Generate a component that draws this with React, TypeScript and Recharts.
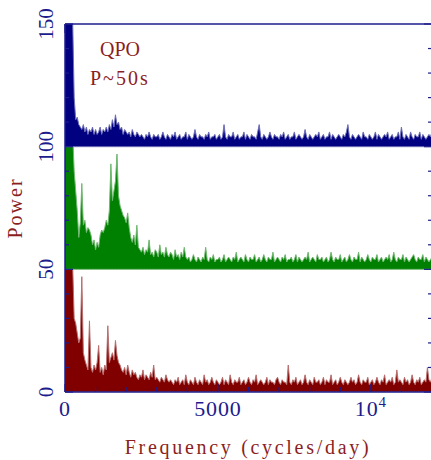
import React from "react";
import { ComposedChart, Area, XAxis, YAxis } from "recharts";

const NAVY = "#1c1c8c";
const TEXT_RED = "#8b1f1f";
const SERIF = "'Liberation Serif', 'DejaVu Serif', serif";

// frequency grid step (cycles/day)
const STEP = 50;

// power of each spectrum, one value per 50 cycles/day, 0 .. 12000
const bluePower = [
  70, 68, 64, 58, 54, 52, 20, 11, 12, 9,
  8, 7, 9, 6, 8, 5, 7, 6, 8, 5,
  7, 5, 6, 8, 5, 7, 6, 8, 6, 9,
  7, 11, 8, 13, 9, 10, 7, 8, 5, 7,
  6, 5, 6, 4, 7, 5, 4, 6, 5, 4,
  5, 4, 3, 5, 4, 6, 4, 3, 5, 4,
  4, 5, 3, 4, 6, 4, 3, 5, 4, 3,
  5, 4, 6, 3, 4, 5, 3, 4, 4, 6,
  3, 5, 4, 3, 4, 7, 4, 3, 5, 4,
  4, 3, 5, 4, 6, 3, 4, 4, 5, 3,
  4, 5, 3, 4, 9, 4, 3, 5, 4, 4,
  6, 3, 4, 5, 3, 4, 4, 6, 3, 5,
  4, 3, 5, 4, 4, 3, 6, 9, 4, 3,
  5, 4, 3, 4, 6, 4, 3, 5, 4, 4,
  3, 5, 4, 6, 3, 4, 5, 3, 4, 4,
  6, 3, 4, 5, 4, 3, 4, 7, 4, 3,
  5, 4, 3, 4, 5, 4, 6, 3, 4, 5,
  3, 4, 4, 6, 3, 5, 4, 3, 4, 5,
  4, 3, 5, 4, 6, 9, 4, 3, 5, 4,
  3, 4, 5, 4, 3, 6, 4, 4, 3, 5,
  4, 3, 4, 6, 3, 5, 4, 3, 4, 5,
  4, 6, 3, 4, 5, 3, 4, 4, 6, 3,
  8, 4, 3, 5, 4, 3, 6, 4, 3, 5,
  4, 4, 6, 3, 5, 4, 3, 4, 5, 4, 6,
];

const greenPower = [
  80, 76, 72, 68, 62, 56, 40, 32, 24, 13,
  19, 35, 18, 20, 15, 17, 16, 14, 10, 12,
  8, 11, 9, 14, 16, 15, 17, 20, 18, 24,
  43, 28, 32, 36, 47, 30, 26, 24, 22, 21,
  19, 23, 17, 13, 11, 14, 10, 18, 9, 8,
  7, 9, 6, 8, 7, 12, 6, 7, 5, 8,
  7, 5, 10, 6, 7, 5, 9, 6, 5, 7,
  6, 4, 8, 5, 6, 4, 7, 5, 9, 5,
  4, 5, 3, 4, 6, 4, 3, 5, 4, 3,
  5, 4, 9, 4, 3, 5, 4, 6, 3, 4,
  4, 5, 3, 4, 6, 3, 4, 5, 4, 3,
  5, 4, 7, 3, 4, 5, 4, 3, 6, 4,
  3, 5, 4, 4, 6, 3, 4, 5, 3, 4,
  6, 4, 3, 5, 4, 4, 7, 3, 4, 5,
  4, 3, 5, 4, 6, 3, 4, 4, 5, 3,
  4, 6, 3, 5, 4, 3, 4, 5, 4, 7,
  3, 4, 5, 4, 3, 6, 4, 4, 5, 3,
  4, 5, 3, 4, 7, 4, 3, 5, 4, 4,
  6, 3, 4, 5, 3, 4, 6, 4, 3, 5,
  4, 4, 7, 3, 5, 4, 3, 4, 6, 4,
  3, 5, 4, 4, 6, 3, 4, 5, 3, 4,
  5, 4, 6, 3, 4, 7, 4, 3, 5, 4,
  4, 6, 3, 5, 4, 3, 4, 5, 6, 4,
  3, 5, 4, 4, 6, 3, 5, 4, 3, 4, 5,
];

const redPower = [
  75, 70, 65, 60, 55, 52, 30, 28, 24, 20,
  22, 47, 16, 13, 11, 9, 29, 10, 8, 11,
  9, 12, 19, 8, 10, 7, 11, 9, 27, 12,
  14, 16, 13, 21, 15, 12, 11, 9, 8, 10,
  7, 11, 8, 6, 9, 7, 8, 6, 5, 7,
  6, 9, 5, 7, 6, 5, 8, 6, 11, 5,
  6, 5, 4, 6, 5, 4, 7, 5, 4, 5,
  4, 3, 5, 4, 6, 3, 4, 5, 3, 7,
  4, 3, 5, 4, 3, 6, 4, 3, 5, 4,
  3, 7, 4, 5, 3, 4, 6, 4, 3, 5,
  4, 3, 4, 6, 3, 5, 4, 3, 7, 4,
  3, 5, 4, 4, 6, 3, 4, 5, 3, 4,
  6, 4, 3, 5, 4, 7, 3, 4, 5, 4,
  3, 4, 6, 3, 5, 4, 4, 3, 5, 6,
  4, 3, 5, 4, 4, 3, 11, 4, 3, 5,
  4, 6, 3, 4, 5, 3, 4, 7, 4, 3,
  5, 4, 3, 6, 4, 4, 5, 3, 4, 6,
  3, 5, 4, 4, 7, 3, 4, 5, 3, 4,
  6, 4, 3, 5, 4, 3, 4, 6, 4, 5,
  3, 4, 7, 4, 3, 5, 4, 4, 6, 3,
  4, 5, 3, 4, 6, 4, 3, 5, 4, 7,
  3, 4, 5, 4, 6, 3, 4, 9, 4, 5,
  4, 3, 6, 4, 5, 3, 4, 7, 4, 3,
  5, 4, 6, 3, 4, 5, 4, 10, 5, 4, 6,
];

// vertical offsets of the stacked spectra
const redOffset = 0;
const greenOffset = 50;
const blueOffset = 100;

const xTicks = [0, 1000, 2000, 3000, 4000, 5000, 6000, 7000, 8000, 9000, 10000, 11000, 12000];
const xMajor = [0, 5000, 10000];
const yTicks = [0, 10, 20, 30, 40, 50, 60, 70, 80, 90, 100, 110, 120, 130, 140, 150];
const yMajor = [0, 50, 100, 150];

const rows = bluePower.map((_, i) => ({
  f: i * STEP,
  red: [redOffset, redOffset + redPower[i]],
  green: [greenOffset, greenOffset + greenPower[i]],
  blue: [blueOffset, blueOffset + bluePower[i]],
}));

function BottomTick(props: any) {
  const { x, y, payload } = props;
  const v = payload.value;
  const major = xMajor.includes(v);
  return (
    <g>
      <line x1={x} x2={x} y1={y} y2={y - (major ? 8 : 5)} stroke={NAVY} strokeWidth={1.2} />
      {major && (
        <text x={x} y={y + 24} textAnchor="middle" fill={NAVY} fontFamily={SERIF} fontSize={22} letterSpacing={0.8}>
          {v === 10000 ? (
            <>
              10<tspan dy={-9} fontSize={15}>4</tspan>
            </>
          ) : (
            v
          )}
        </text>
      )}
    </g>
  );
}

function TopTick(props: any) {
  const { x, y, payload } = props;
  const major = xMajor.includes(payload.value);
  return <line x1={x} x2={x} y1={y} y2={y + (major ? 9 : 5)} stroke={NAVY} strokeWidth={1.2} />;
}

function LeftTick(props: any) {
  const { x, y, payload } = props;
  const v = payload.value;
  const major = yMajor.includes(v);
  const tx = x - 19;
  return (
    <g>
      <line x1={x} x2={x + (major ? 8 : 4)} y1={y} y2={y} stroke={NAVY} strokeWidth={1.2} />
      {major && (
        <text
          x={tx}
          y={y}
          transform={`rotate(-90 ${tx} ${y})`}
          textAnchor="middle"
          dominantBaseline="central"
          fill={NAVY}
          fontFamily={SERIF}
          fontSize={21}
        >
          {v}
        </text>
      )}
    </g>
  );
}

function RightTick(props: any) {
  const { x, y, payload } = props;
  const major = yMajor.includes(payload.value);
  return <line x1={x} x2={x - (major ? 8 : 4)} y1={y} y2={y} stroke={NAVY} strokeWidth={1.2} />;
}

export default function App() {
  const text = { position: "absolute" as const, fontFamily: SERIF, color: TEXT_RED, lineHeight: 1, whiteSpace: "nowrap" as const };
  return (
    <div style={{ position: "absolute", left: 0, top: 0, width: 431, height: 460, overflow: "hidden", background: "#fff" }}>
      <ComposedChart width={440} height={460} data={rows} margin={{ top: 0, right: 0, bottom: 0, left: 0 }}>
        <XAxis
          dataKey="f"
          type="number"
          domain={[0, 12000]}
          allowDataOverflow
          ticks={xTicks}
          interval={0}
          height={68}
          tickSize={0}
          tickMargin={0}
          tickLine={false}
          axisLine={{ stroke: NAVY, strokeWidth: 1.5 }}
          tick={<BottomTick />}
        />
        <XAxis
          xAxisId="top"
          orientation="top"
          type="number"
          domain={[0, 12000]}
          allowDataOverflow
          ticks={xTicks}
          interval={0}
          height={24}
          tickSize={0}
          tickMargin={0}
          tickLine={false}
          axisLine={{ stroke: NAVY, strokeWidth: 1.5 }}
          tick={<TopTick />}
        />
        <YAxis
          type="number"
          domain={[0, 150]}
          allowDataOverflow
          ticks={yTicks}
          interval={0}
          width={65}
          tickSize={0}
          tickMargin={0}
          tickLine={false}
          axisLine={{ stroke: NAVY, strokeWidth: 1.5 }}
          tick={<LeftTick />}
        />
        <YAxis
          yAxisId="right"
          orientation="right"
          type="number"
          domain={[0, 150]}
          allowDataOverflow
          ticks={yTicks}
          interval={0}
          width={8}
          tickSize={0}
          tickMargin={0}
          tickLine={false}
          axisLine={{ stroke: NAVY, strokeWidth: 1.5 }}
          tick={<RightTick />}
        />
        <Area dataKey="red" type="linear" fill="#800000" fillOpacity={1} stroke="#b87070" strokeWidth={1} dot={false} activeDot={false} isAnimationActive={false} />
        <Area dataKey="green" type="linear" fill="#008000" fillOpacity={1} stroke="#70b870" strokeWidth={1} dot={false} activeDot={false} isAnimationActive={false} />
        <Area dataKey="blue" type="linear" fill="#000080" fillOpacity={1} stroke="#7070b8" strokeWidth={1} dot={false} activeDot={false} isAnimationActive={false} />
      </ComposedChart>
      <div style={{ ...text, left: 100, top: 39, fontSize: 20 }}>QPO</div>
      <div style={{ ...text, left: 90, top: 68, fontSize: 20, letterSpacing: 2 }}>P~50s</div>
      <div style={{ ...text, left: 248, top: 437, fontSize: 20, letterSpacing: 2.7, transform: "translateX(-50%)" }}>
        Frequency (cycles/day)
      </div>
      <div style={{ ...text, left: 15, top: 208, fontSize: 20, letterSpacing: 2, transform: "translate(-50%, -50%) rotate(-90deg)" }}>
        Power
      </div>
    </div>
  );
}
